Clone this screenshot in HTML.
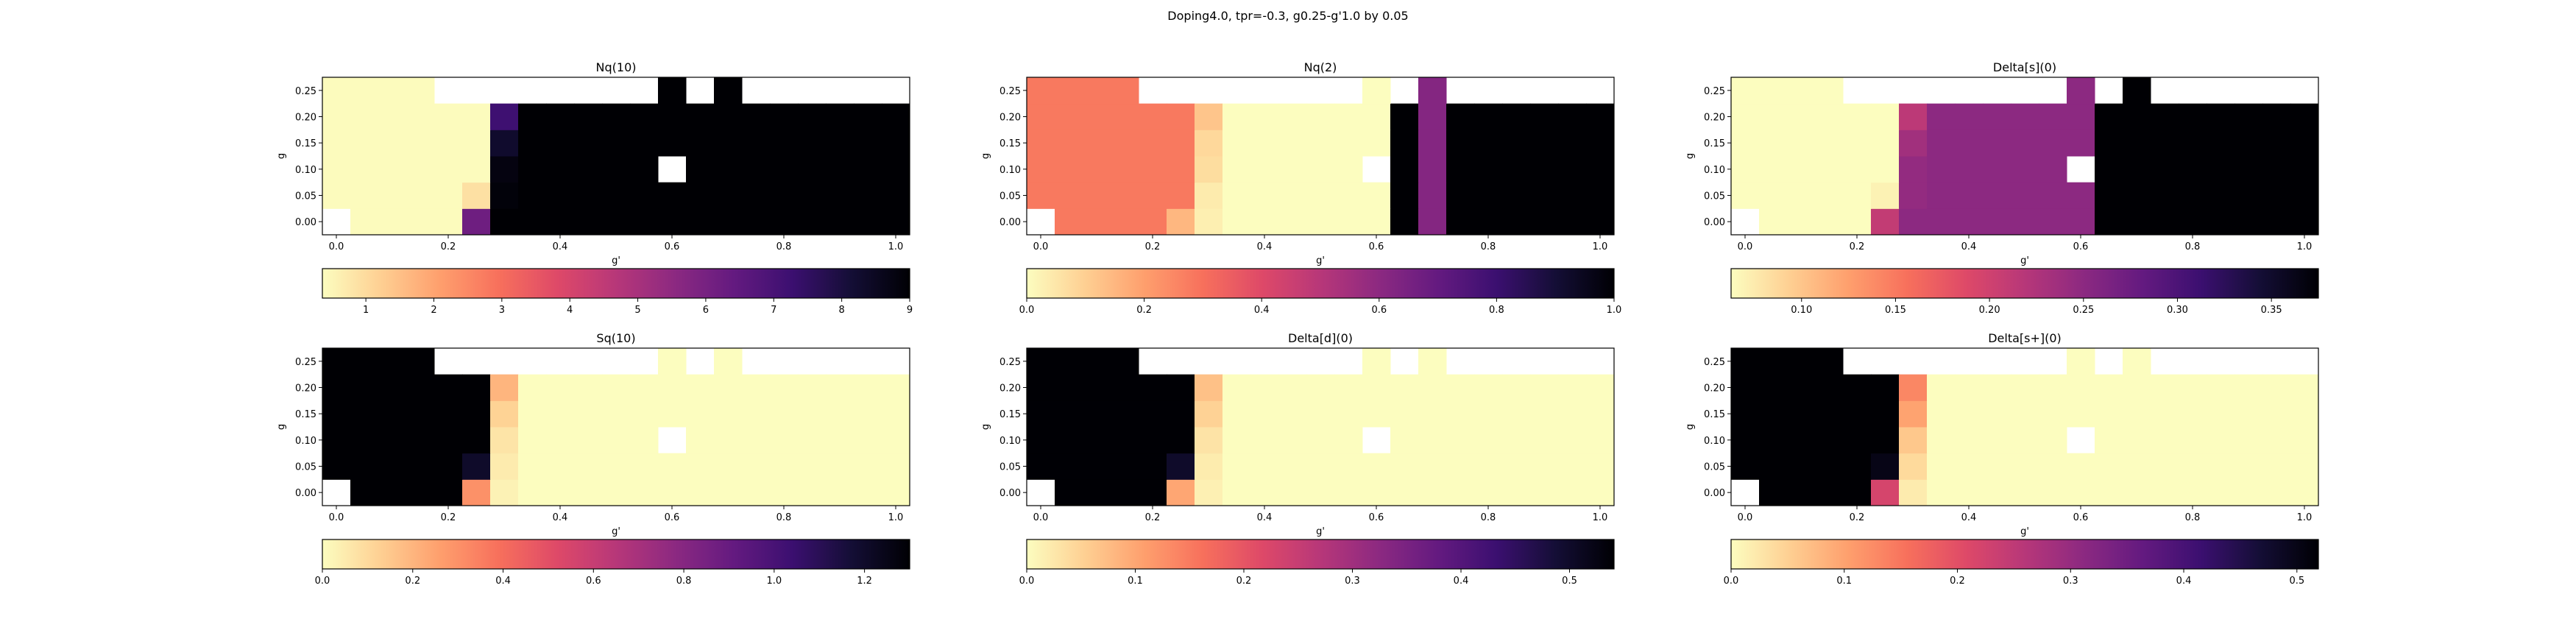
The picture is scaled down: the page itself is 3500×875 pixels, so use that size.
<!DOCTYPE html>
<html><head><meta charset="utf-8"><style>
html,body{margin:0;padding:0;background:#fff;}
svg{display:block;font-family:"DejaVu Sans","Liberation Sans",sans-serif;}
</style></head><body>
<svg id="fig" width="3500" height="875" viewBox="0 0 3500 875" xmlns="http://www.w3.org/2000/svg">
<text x="1750" y="27" text-anchor="middle" font-size="16">Doping4.0, tpr=-0.3, g0.25-g'1.0 by 0.05</text>
</svg>
<script>
const xValues = [0,0.05,0.1,0.15,0.2,0.25,0.3,0.35,0.4,0.45,0.5,0.55,0.6,0.65,0.7,0.75,0.8,0.85,0.9,0.95,1.0];
const yValues = [0,0.05,0.1,0.15,0.2,0.25];
const xTicks = [0,0.2,0.4,0.6,0.8,1.0];
const yTicks = [0,0.05,0.1,0.15,0.2,0.25];
const N = null;
// rows ordered y=0 .. y=0.25
const nq10 = [
 [N,0.4,0.4,0.4,0.4,6.2,9,9,9,9,9,9,9,9,9,9,9,9,9,9,9],
 [0.4,0.4,0.4,0.4,0.4,0.9,8.9,9,9,9,9,9,9,9,9,9,9,9,9,9,9],
 [0.4,0.4,0.4,0.4,0.4,0.4,8.8,9,9,9,9,9,N,9,9,9,9,9,9,9,9],
 [0.4,0.4,0.4,0.4,0.4,0.4,8.3,9,9,9,9,9,9,9,9,9,9,9,9,9,9],
 [0.4,0.4,0.4,0.4,0.4,0.4,7.2,9,9,9,9,9,9,9,9,9,9,9,9,9,9],
 [0.4,0.4,0.4,0.4,N,N,N,N,N,N,N,N,9,N,9,N,N,N,N,N,N]];
const nq2 = [
 [N,0.28,0.28,0.28,0.28,0.15,0.03,0,0,0,0,0,0,1,0.62,1,1,1,1,1,1],
 [0.28,0.28,0.28,0.28,0.28,0.28,0.04,0,0,0,0,0,0,1,0.62,1,1,1,1,1,1],
 [0.28,0.28,0.28,0.28,0.28,0.28,0.07,0,0,0,0,0,N,1,0.62,1,1,1,1,1,1],
 [0.28,0.28,0.28,0.28,0.28,0.28,0.08,0,0,0,0,0,0,1,0.62,1,1,1,1,1,1],
 [0.28,0.28,0.28,0.28,0.28,0.28,0.12,0,0,0,0,0,0,1,0.62,1,1,1,1,1,1],
 [0.28,0.28,0.28,0.28,N,N,N,N,N,N,N,N,0,N,0.62,N,N,N,N,N,N]];
const deltaS = [
 [N,0.0625,0.0625,0.0625,0.0625,0.21,0.25,0.25,0.25,0.25,0.25,0.25,0.25,0.375,0.375,0.375,0.375,0.375,0.375,0.375,0.375],
 [0.0625,0.0625,0.0625,0.0625,0.0625,0.07,0.245,0.25,0.25,0.25,0.25,0.25,0.25,0.375,0.375,0.375,0.375,0.375,0.375,0.375,0.375],
 [0.0625,0.0625,0.0625,0.0625,0.0625,0.0625,0.245,0.25,0.25,0.25,0.25,0.25,N,0.375,0.375,0.375,0.375,0.375,0.375,0.375,0.375],
 [0.0625,0.0625,0.0625,0.0625,0.0625,0.0625,0.235,0.25,0.25,0.25,0.25,0.25,0.25,0.375,0.375,0.375,0.375,0.375,0.375,0.375,0.375],
 [0.0625,0.0625,0.0625,0.0625,0.0625,0.0625,0.215,0.25,0.25,0.25,0.25,0.25,0.25,0.375,0.375,0.375,0.375,0.375,0.375,0.375,0.375],
 [0.0625,0.0625,0.0625,0.0625,N,N,N,N,N,N,N,N,0.25,N,0.375,N,N,N,N,N,N]];
const sq10 = [
 [N,1.3,1.3,1.3,1.3,0.3,0.03,0,0,0,0,0,0,0,0,0,0,0,0,0,0],
 [1.3,1.3,1.3,1.3,1.3,1.2,0.05,0,0,0,0,0,0,0,0,0,0,0,0,0,0],
 [1.3,1.3,1.3,1.3,1.3,1.3,0.07,0,0,0,0,0,N,0,0,0,0,0,0,0,0],
 [1.3,1.3,1.3,1.3,1.3,1.3,0.12,0,0,0,0,0,0,0,0,0,0,0,0,0,0],
 [1.3,1.3,1.3,1.3,1.3,1.3,0.2,0,0,0,0,0,0,0,0,0,0,0,0,0,0],
 [1.3,1.3,1.3,1.3,N,N,N,N,N,N,N,N,0,N,0,N,N,N,N,N,N]];
const deltaD = [
 [N,0.54,0.54,0.54,0.54,0.1,0.015,0,0,0,0,0,0,0,0,0,0,0,0,0,0],
 [0.54,0.54,0.54,0.54,0.54,0.5,0.02,0,0,0,0,0,0,0,0,0,0,0,0,0,0],
 [0.54,0.54,0.54,0.54,0.54,0.54,0.03,0,0,0,0,0,N,0,0,0,0,0,0,0,0],
 [0.54,0.54,0.54,0.54,0.54,0.54,0.05,0,0,0,0,0,0,0,0,0,0,0,0,0,0],
 [0.54,0.54,0.54,0.54,0.54,0.54,0.07,0,0,0,0,0,0,0,0,0,0,0,0,0,0],
 [0.54,0.54,0.54,0.54,N,N,N,N,N,N,N,N,0,N,0,N,N,N,N,N,N]];
const deltaSp = [
 [N,0.52,0.52,0.52,0.52,0.22,0.02,0,0,0,0,0,0,0,0,0,0,0,0,0,0],
 [0.52,0.52,0.52,0.52,0.52,0.5,0.04,0,0,0,0,0,0,0,0,0,0,0,0,0,0],
 [0.52,0.52,0.52,0.52,0.52,0.52,0.06,0,0,0,0,0,N,0,0,0,0,0,0,0,0],
 [0.52,0.52,0.52,0.52,0.52,0.52,0.1,0,0,0,0,0,0,0,0,0,0,0,0,0,0],
 [0.52,0.52,0.52,0.52,0.52,0.52,0.13,0,0,0,0,0,0,0,0,0,0,0,0,0,0],
 [0.52,0.52,0.52,0.52,N,N,N,N,N,N,N,N,0,N,0,N,N,N,N,N,N]];
const titles = ["Nq(10)","Nq(2)","Delta[s](0)","Sq(10)","Delta[d](0)","Delta[s+](0)"];
const vmins = [0.36,0,0.0625,0,0,0];
const vmaxs = [9,1,0.375,1.3,0.541,0.519];
const cbTicks1 = [1,2,3,4,5,6,7,8,9];
const cbTicks2 = [0,0.2,0.4,0.6,0.8,1.0];
const cbTicks3 = [0.10,0.15,0.20,0.25,0.30,0.35];
const cbTicks4 = [0,0.2,0.4,0.6,0.8,1.0,1.2];
const cbTicks5 = [0,0.1,0.2,0.3,0.4,0.5];
const cbTicks6 = [0,0.1,0.2,0.3,0.4,0.5];

const NS="http://www.w3.org/2000/svg";
const svg=document.getElementById('fig');
const magma=[[0,0,4],[20,14,54],[59,15,112],[100,26,128],[140,41,129],[183,55,121],[222,73,104],[247,112,92],[254,159,109],[254,207,146],[252,253,191]];
function cmap(t){
  t=Math.max(0,Math.min(1,t)); const u=(1-t)*10; const i=Math.min(9,Math.floor(u)); const f=u-i;
  const a=magma[i],b=magma[i+1];
  return 'rgb('+a.map((v,k)=>Math.round(v+(b[k]-v)*f)).join(',')+')';
}
function el(tag,attrs,parent){const e=document.createElementNS(NS,tag);for(const k in attrs)e.setAttribute(k,attrs[k]);(parent||svg).appendChild(e);return e;}
function fmt(v,d){return v.toFixed(d);}
const defs=el('defs',{});
const grad=el('linearGradient',{id:'mg',x1:'0',x2:'1',y1:'0',y2:'0'},defs);
for(let i=0;i<=20;i++){el('stop',{offset:(i/20),'stop-color':cmap(i/20)},grad);}

const datasets=[nq10,nq2,deltaS,sq10,deltaD,deltaSp];
const cbTicks=[cbTicks1,cbTicks2,cbTicks3,cbTicks4,cbTicks5,cbTicks6];
const cbDec=[0,1,2,1,1,1];
const lefts=[438,1395,2352];
const W=798, H=214;
const tops=[105,473];
const cbTops=[365,733];
const names=['nq10','nq2','delta-s','sq10','delta-d','delta-s-plus'];
for(let p=0;p<6;p++){
  const L=lefts[p%3], T=tops[Math.floor(p/3)], CB=cbTops[Math.floor(p/3)];
  const g=el('g',{});
  
  
  const sx=v=>L+(v+0.025)/1.05*W;
  const sy=v=>T+H-(v+0.025)/0.3*H;
  const data=datasets[p];
  for(let r=0;r<yValues.length;r++){
    for(let c=0;c<xValues.length;c++){
      const v=data[r][c]; if(v===null) continue;
      const x0=sx(xValues[c]-0.025), x1=sx(xValues[c]+0.025);
      const y0=sy(yValues[r]+0.025), y1=sy(yValues[r]-0.025);
      const cell=el('rect',{x:x0,y:y0,width:x1-x0+0.5,height:y1-y0+0.5,fill:cmap((v-vmins[p])/(vmaxs[p]-vmins[p]))},g);
      
      
    }
  }
  const frame=el('rect',{x:L,y:T,width:W,height:H,fill:'none',stroke:'#000','stroke-width':1.2},g);
  
  
  const tt=el('text',{x:L+W/2,y:T-8,'text-anchor':'middle','font-size':16},g); tt.textContent=titles[p];
  
  
  for(const xv of xTicks){
    const x=sx(xv);
    el('line',{x1:x,x2:x,y1:T+H,y2:T+H+5,stroke:'#000','stroke-width':1},g);
    const t=el('text',{x:x,y:T+H+20,'text-anchor':'middle','font-size':13},g); t.textContent=fmt(xv,1);
    
    
  }
  for(const yv of yTicks){
    const y=sy(yv);
    el('line',{x1:L-5,x2:L,y1:y,y2:y,stroke:'#000','stroke-width':1},g);
    const t=el('text',{x:L-8,y:y+5,'text-anchor':'end','font-size':13},g); t.textContent=fmt(yv,2);
    
    
  }
  const xl=el('text',{x:L+W/2,y:T+H+39,'text-anchor':'middle','font-size':13},g); xl.textContent="g'";
  
  
  const yl=el('text',{x:L-52,y:T+H/2,'text-anchor':'middle','font-size':13,transform:'rotate(-90 '+(L-52)+' '+(T+H/2)+')'},g); yl.textContent="g";
  
  
  const cb=el('rect',{x:L,y:CB,width:W,height:40,fill:'url(#mg)',stroke:'#000','stroke-width':1.2},g);
  
  
  for(const tv of cbTicks[p]){
    const x=L+(tv-vmins[p])/(vmaxs[p]-vmins[p])*W;
    el('line',{x1:x,x2:x,y1:CB+40,y2:CB+45,stroke:'#000','stroke-width':1},g);
    const t=el('text',{x:x,y:CB+60,'text-anchor':'middle','font-size':13},g); t.textContent=fmt(tv,cbDec[p]);
    
    
  }
}
</script>
</body></html>
